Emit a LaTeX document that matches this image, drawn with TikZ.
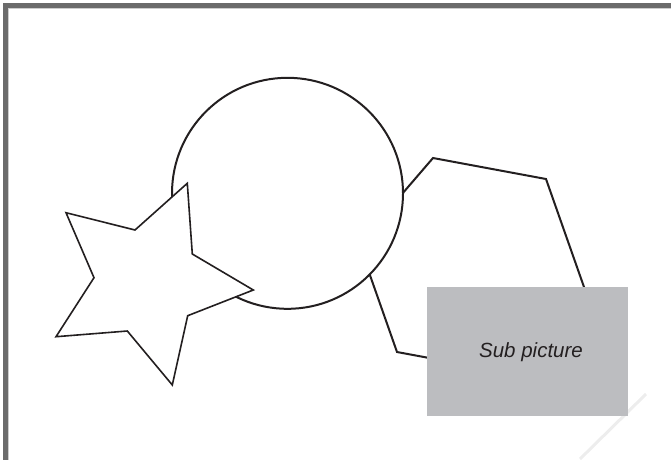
\documentclass[tikz,border=0pt]{standalone}
\usepackage{fontspec}
\setmainfont{Liberation Sans}
\definecolor{framegray}{HTML}{6B6B6B}
\definecolor{subgray}{HTML}{BCBDC0}
\definecolor{ink}{HTML}{231F20}
\begin{document}
\begin{tikzpicture}[x=1pt,y=-1pt,
  shape line/.style={draw=ink,line width=2pt,line join=miter,fill=white},
  star line/.style={draw=ink,line width=1.6pt,line join=miter,fill=white},
  subbox/.style={fill=subgray,draw=none},
  frameline/.style={draw=framegray,line width=5pt}]
\useasboundingbox (0,0) rectangle (671,459);
\clip (0,0) rectangle (671,459);
% frame
\draw[frameline] (5.5,5.5) rectangle (720,520);
\draw[draw=black!20,line width=0.8pt] (8.6,520) -- (8.6,8.6) -- (720,8.6);
% faint watermark stroke
\coordinate (w1) at (646,394);
\coordinate (w2) at (580,459);
\draw[black!7,line width=3pt] (w1) -- (w2);
% hexagon
\coordinate (hA) at (433,158);
\coordinate (hB) at (546,179);
\coordinate (hC) at (584,287);
\coordinate (hD) at (510,373);
\coordinate (hE) at (397,352);
\coordinate (hF) at (359,244);
\draw[shape line,fill=none] (hA) -- (hB) -- (hC) -- (hD) -- (hE) -- (hF) -- cycle;
% circle
\coordinate (cc) at (287.5,193.3);
\draw[shape line] (cc) circle[radius=115.5];
% star
\coordinate (s1) at (187.3,183.3);
\coordinate (s2) at (192.3,254);
\coordinate (s3) at (253.3,290);
\coordinate (s4) at (187.7,315.7);
\coordinate (s5) at (172.3,385);
\coordinate (s6) at (127.3,331);
\coordinate (s7) at (56,336.7);
\coordinate (s8) at (94,277.7);
\coordinate (s9) at (66,212.7);
\coordinate (s10) at (135,230);
\draw[star line] (s1) -- (s2) -- (s3) -- (s4) -- (s5) -- (s6) -- (s7) -- (s8) -- (s9) -- (s10) -- cycle;
% sub picture box
\fill[subbox] (427,287) rectangle (628,416);
\node[text=ink,font=\fontsize{20.5}{24}\selectfont\itshape,inner sep=0pt] (sub) at (531,352) {Sub picture};
\end{tikzpicture}
\end{document}
